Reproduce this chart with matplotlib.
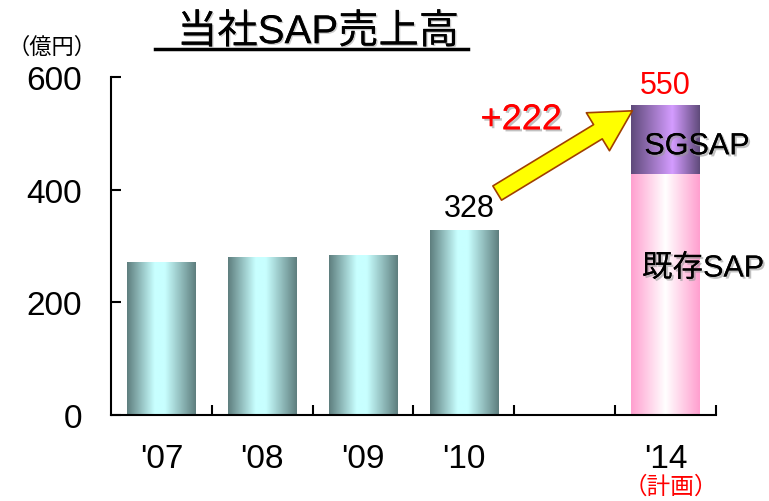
import matplotlib.pyplot as plt
import matplotlib.patheffects as pe
from matplotlib.colors import LinearSegmentedColormap
import numpy as np

plt.rcParams['font.family'] = ['Liberation Sans', 'Noto Sans CJK JP', 'DejaVu Sans']

years = ["'07", "'08", "'09", "'10", "", "'14"]
sales = [270, 280, 284, 328]
plan_existing = 428
plan_sgsap = 122
plan_total = 550
growth = "+222"

fig = plt.figure(figsize=(7.69, 5.02), dpi=100)
ax = fig.add_axes([0.1443, 0.1713, 0.7868, 0.6733])

cyan = LinearSegmentedColormap.from_list(
    'cyan', [(0, '#5e7e7e'), (0.4, '#c8ffff'), (0.55, '#c8ffff'), (1, '#5e7e7e')])
pink = LinearSegmentedColormap.from_list(
    'pink', [(0, '#ff9fcf'), (0.5, '#ffffff'), (1, '#ff9fcf')])
purple = LinearSegmentedColormap.from_list(
    'purple', [(0, '#5f4a7a'), (0.6, '#d49cff'), (1, '#5f4a7a')])

grad = np.linspace(0, 1, 256).reshape(1, -1)
width = 0.68


def grad_bar(x, bottom, height, cmap):
    ax.imshow(grad, cmap=cmap, aspect='auto', interpolation='bilinear',
              extent=[x - width / 2, x + width / 2, bottom, bottom + height], zorder=2)


for i, v in enumerate(sales):
    grad_bar(i + 0.5, 0, v, cyan)

grad_bar(5.5, 0, plan_existing, pink)
grad_bar(5.5, plan_existing, plan_sgsap, purple)

ax.set_xlim(0, 6)
ax.set_ylim(0, 600)
ax.spines['top'].set_visible(False)
ax.spines['right'].set_visible(False)
for s in ['left', 'bottom']:
    ax.spines[s].set_linewidth(1.5)

ax.set_yticks([0, 200, 400, 600])
ax.tick_params(axis='y', direction='in', length=7, width=1.5, labelsize=24, pad=21)
ax.set_xticks([1, 2, 3, 4, 5, 6])
ax.set_xticklabels([])
ax.tick_params(axis='x', which='major', direction='in', length=7, width=1.5)
ax.set_xticks([i + 0.5 for i in range(6)], minor=True)
ax.set_xticklabels(years, minor=True)
ax.tick_params(axis='x', which='minor', length=0, labelsize=24, pad=20)

shadow = [pe.withSimplePatchShadow(offset=(1.5, -1.5), shadow_rgbFace='#999999', alpha=0.6), pe.Normal()]

ax.text(3.55, 367, str(sales[3]), ha='center', va='center', fontsize=22, zorder=4)
ax.text(5.5, 586, str(plan_total), ha='center', va='center', fontsize=22,
        color='red', zorder=4)
ax.text(5.81, 477, 'SGSAP', ha='center', va='center', fontsize=22, zorder=4,
        path_effects=shadow)
ax.text(5.87, 260, '既存SAP', ha='center', va='center', fontsize=22, zorder=4,
        path_effects=shadow)
ax.text(4.07, 524, growth, ha='center', va='center', fontsize=26, color='red', zorder=4,
        path_effects=shadow)
ax.text(5.55, -127, '（計画）', ha='center', va='center', fontsize=17, color='red',
        family=['Noto Sans CJK JP'], clip_on=False)

# yellow arrow from the '10 bar towards the plan bar
ax.annotate('', xy=(5.17, 540), xytext=(3.83, 394),
            arrowprops=dict(arrowstyle='simple,head_length=1.45,head_width=1.6,tail_width=0.6',
                            mutation_scale=20, fc='#ffff00', ec='#a04000', lw=1.2,
                            shrinkA=0, shrinkB=0),
            zorder=5)

fig.text(0.068, 0.906, '（億円）', ha='center', va='center', fontsize=16,
         family=['Noto Sans CJK JP'])
fig.text(0.4135, 0.934, '当社SAP売上高', ha='center', va='center', fontsize=29,
         path_effects=[pe.withSimplePatchShadow(offset=(1, -1), shadow_rgbFace='#aaaaaa', alpha=0.6), pe.Normal()])
fig.add_artist(plt.Line2D([0.2016, 0.6086], [0.9004, 0.9004], color='black', lw=2.5))

fig.savefig('out.png', dpi=100)
